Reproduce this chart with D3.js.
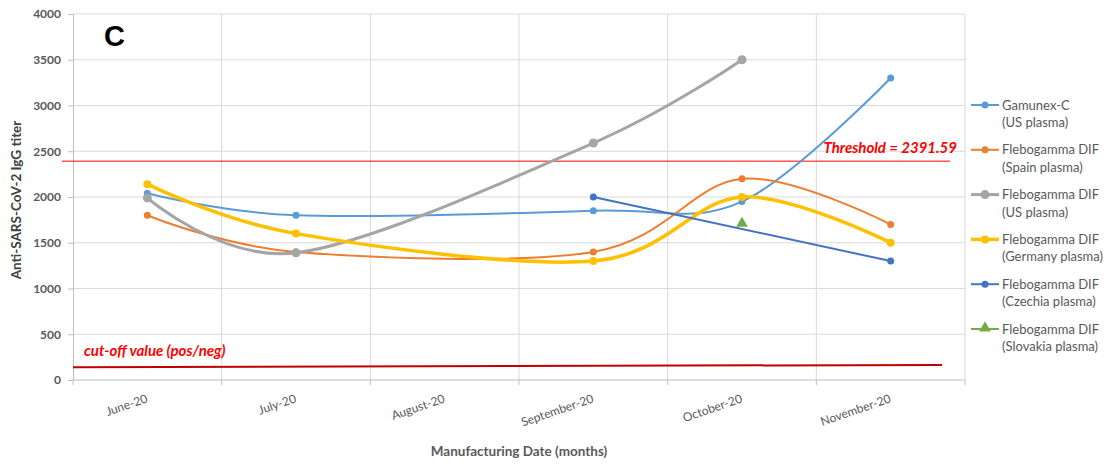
<!DOCTYPE html>
<html><head><meta charset="utf-8">
<script src="https://cdn.jsdelivr.net/npm/d3@7"></script>
<style>html,body{margin:0;padding:0;background:#fff;}svg{display:block;}</style>
</head><body>
<svg id="chart" width="1113" height="466"></svg>
<script>
const months = ["June-20","July-20","August-20","September-20","October-20","November-20"];
const yTicks = [0,500,1000,1500,2000,2500,3000,3500,4000];
const gamunexUS = [2040,1800,null,1850,1950,3300];
const flebSpain = [1800,1400,null,1400,2200,1700];
const flebUS = [1990,1390,null,2590,3500,null];
const flebGermany = [2140,1600,null,1300,2000,1500];
const flebCzechia = [null,null,null,2000,null,1300];
const flebSlovakia = [null,null,null,null,1700,null];
const seriesNames = [
  ["Gamunex-C","(US plasma)"],
  ["Flebogamma DIF","(Spain plasma)"],
  ["Flebogamma DIF","(US plasma)"],
  ["Flebogamma DIF","(Germany plasma)"],
  ["Flebogamma DIF","(Czechia plasma)"],
  ["Flebogamma DIF","(Slovakia plasma)"]
];
const thresholdValue = 2391.59;
const cutoffValues = [140, 165];

const styles = [
  {color:"#5B9BD5", w:2,   r:3.5, shape:"circle"},
  {color:"#ED7D31", w:2,   r:3.5, shape:"circle"},
  {color:"#A5A5A5", w:3,   r:4.5, shape:"circle"},
  {color:"#FFC000", w:3.5, r:4,   shape:"circle"},
  {color:"#4472C4", w:2,   r:3.5, shape:"circle"},
  {color:"#70AD47", w:2,   r:5,   shape:"triangle"}
];
const allSeries = [gamunexUS, flebSpain, flebUS, flebGermany, flebCzechia, flebSlovakia];

const svg = d3.select("#chart");
const L = 73, R = 965, T = 14, B = 380;
const x = d3.scaleBand().domain(months).range([L, R]).padding(0);
const y = d3.scaleLinear().domain([0, 4000]).range([B, T]);
const FONT = "Lato, 'Open Sans', sans-serif";

// gridlines
svg.append("g").selectAll("line").data(yTicks.slice(1)).join("line")
  .attr("x1", L).attr("x2", R).attr("y1", d => y(d)).attr("y2", d => y(d))
  .attr("stroke", "#d9d9d9").attr("stroke-width", 1);
const bounds = months.map(m => x(m)).concat([R]);
svg.append("g").selectAll("line").data(bounds.slice(1)).join("line")
  .attr("x1", d => d).attr("x2", d => d).attr("y1", T).attr("y2", B)
  .attr("stroke", "#d9d9d9").attr("stroke-width", 1);

// y axis
const yAxis = svg.append("g").attr("transform", `translate(${L},0)`)
  .call(d3.axisLeft(y).tickValues(yTicks).tickFormat(d3.format("d")).tickSize(5).tickPadding(7));
yAxis.select(".domain").attr("stroke", "#bfbfbf");
yAxis.selectAll(".tick line").attr("stroke", "#bfbfbf");
yAxis.selectAll(".tick text").attr("fill", "#595959").attr("font-family", FONT)
  .attr("font-size", 12).attr("font-weight", "bold");

// x axis
const xAxisG = svg.append("g").attr("transform", `translate(0,${B})`);
xAxisG.append("line").attr("x1", L).attr("x2", R).attr("stroke", "#bfbfbf");
xAxisG.selectAll("line.t").data(bounds).join("line").attr("class","t")
  .attr("x1", d => d).attr("x2", d => d).attr("y1", 0).attr("y2", 5).attr("stroke", "#bfbfbf");
svg.append("g").selectAll("text").data(months).join("text")
  .attr("transform", d => `translate(${x(d) + x.bandwidth()/2 + 1},${B + 22}) rotate(-19)`)
  .attr("text-anchor", "end").attr("font-family", FONT).attr("font-size", 12)
  .attr("fill", "#595959").text(d => d);

// axis titles
svg.append("text").attr("x", (L + R) / 2).attr("y", 456).attr("text-anchor", "middle")
  .attr("font-family", FONT).attr("font-size", 13.5).attr("font-weight", "bold")
  .attr("fill", "#595959").text("Manufacturing Date (months)");
svg.append("text").attr("transform", `translate(21,${(T+B)/2 + 3}) rotate(-90)`)
  .attr("text-anchor", "middle").attr("font-family", FONT).attr("font-size", 13.5)
  .attr("font-weight", "bold").attr("fill", "#404040").text("Anti-SARS-CoV-2 IgG titer");

// panel letter
svg.append("text").attr("x", 104).attr("y", 46).attr("font-family", "'Liberation Sans', Arial, sans-serif")
  .attr("font-size", 29).attr("font-weight", "bold").attr("fill", "#000").text("C");

// threshold line
svg.append("line").attr("x1", 62).attr("x2", 950)
  .attr("y1", y(thresholdValue)).attr("y2", y(thresholdValue))
  .attr("stroke", "#FF0000").attr("stroke-width", 1);
svg.append("text").attr("x", 957).attr("y", 153).attr("text-anchor", "end")
  .attr("font-family", FONT).attr("font-size", 15).attr("font-weight", "bold")
  .attr("font-style", "italic").attr("fill", "#FF0000").text("Threshold = 2391.59");

// cut-off line
svg.append("line").attr("x1", L).attr("x2", 942)
  .attr("y1", y(cutoffValues[0])).attr("y2", y(cutoffValues[1]))
  .attr("stroke", "#C00000").attr("stroke-width", 2);
svg.append("text").attr("x", 84).attr("y", 356)
  .attr("font-family", FONT).attr("font-size", 15).attr("font-weight", "bold")
  .attr("font-style", "italic").attr("fill", "#FF0000").text("cut-off value (pos/neg)");

// series
const line = d3.line().x(d => x(d.m) + x.bandwidth()/2).y(d => y(d.v))
  .curve(d3.curveCardinal.tension(0));
const tri = d3.symbol().type(d3.symbolTriangle);
allSeries.forEach((vals, i) => {
  const st = styles[i];
  const pts = months.map((m, j) => ({m, v: vals[j]})).filter(d => d.v != null);
  const g = svg.append("g");
  if (pts.length > 1) {
    g.append("path").attr("d", line(pts)).attr("fill", "none")
      .attr("stroke", st.color).attr("stroke-width", st.w)
      .attr("stroke-linecap", "round").attr("stroke-linejoin", "round");
  }
  if (st.shape === "circle") {
    g.selectAll("circle").data(pts).join("circle")
      .attr("cx", d => x(d.m) + x.bandwidth()/2).attr("cy", d => y(d.v))
      .attr("r", st.r).attr("fill", st.color);
  } else {
    g.selectAll("path.m").data(pts).join("path").attr("class","m")
      .attr("d", tri.size(60)())
      .attr("transform", d => `translate(${x(d.m) + x.bandwidth()/2},${y(d.v) - 1})`)
      .attr("fill", st.color);
  }
});

// legend
const lg = svg.append("g").attr("transform", "translate(971,105)");
seriesNames.forEach((nm, i) => {
  const st = styles[i];
  const gy = i * 44.8;
  const it = lg.append("g").attr("transform", `translate(0,${gy})`);
  it.append("line").attr("x1", 0).attr("x2", 28).attr("y1", 0).attr("y2", 0)
    .attr("stroke", st.color).attr("stroke-width", st.w);
  if (st.shape === "circle") {
    it.append("circle").attr("cx", 14).attr("cy", 0).attr("r", st.r).attr("fill", st.color);
  } else {
    it.append("path").attr("d", tri.size(60)()).attr("transform", "translate(14,-1)").attr("fill", st.color);
  }
  it.append("text").attr("x", 31).attr("y", 4.5).attr("font-family", FONT)
    .attr("font-size", 13).attr("fill", "#595959").text(nm[0]);
  it.append("text").attr("x", 31).attr("y", 22).attr("font-family", FONT)
    .attr("font-size", 13).attr("fill", "#595959").text(nm[1]);
});
</script>
</body></html>
